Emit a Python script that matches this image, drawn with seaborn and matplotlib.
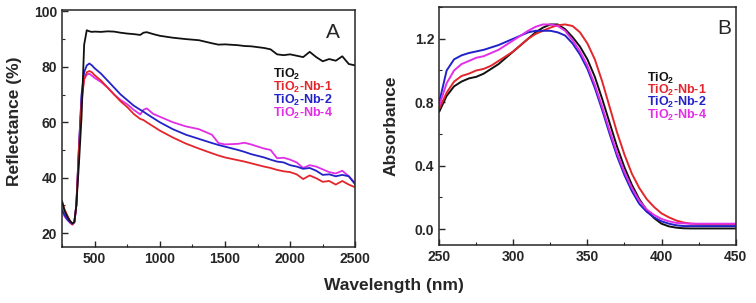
import numpy as np
import pandas as pd
import matplotlib
matplotlib.use("Agg")
import matplotlib.pyplot as plt
from matplotlib.ticker import MultipleLocator
import seaborn as sns

# panel A: diffuse reflectance
wl_a = [250, 270, 290, 310, 330, 345, 360, 380, 400, 420, 440, 460, 480, 500, 550,
        600, 650, 700, 750, 800, 850, 875, 900, 950, 1000, 1100, 1200, 1300, 1400,
        1450, 1500, 1600, 1650, 1700, 1800, 1850, 1900, 1950, 2000, 2050, 2100,
        2150, 2200, 2250, 2300, 2350, 2400, 2450, 2500]
refl_tio2 = [31.5, 28, 26, 24.5, 23.5, 24, 30, 45, 62, 88, 93.2, 92.8, 92.6, 92.7, 92.6,
             92.8, 92.7, 92.3, 92.0, 91.8, 91.5, 92.3, 92.5, 91.8, 91.2, 90.5, 90.0, 89.6, 88.5,
             88.0, 88.1, 87.8, 87.5, 87.4, 86.8, 86.3, 84.5, 84.2, 84.5, 84.0, 83.5,
             85.4, 83.5, 82.0, 82.8, 82.2, 83.8, 81.0, 80.5]
refl_nb1 = [31.5, 28.5, 26.5, 24.5, 23.2, 24, 30, 50, 67, 75.5, 78, 78.5, 78, 77, 75,
            72.5, 70, 67.5, 65.5, 63, 61.2, 60.8, 60, 58.5, 57, 54.5, 52.3, 50.5, 48.8,
            48, 47.3, 46.3, 45.8, 45.2, 44.0, 43.5, 42.8, 42.3, 42.0, 41.2, 39.5,
            40.8, 39.8, 38.5, 38.8, 37.5, 38.8, 37.5, 36.5]
refl_nb2 = [28.5, 26.5, 25, 24, 23.2, 24, 30, 51, 70, 78, 80.5, 81.2, 80.5, 79.5, 77.5,
            75, 72.5, 70, 68, 66, 64.5, 63.8, 63, 61.5, 60, 57.5, 55.5, 54, 52.5,
            51.8, 51.2, 50, 49.3, 48.5, 47.3, 46.5, 45.8, 45.5, 44.5, 44, 43.2,
            43.5, 42.5, 41, 41.2, 40.5, 41, 40.5, 37.5]
refl_nb4 = [28, 26, 24.8, 23.8, 23, 24, 30, 51, 69, 75.5, 77.2, 77.5, 76.8, 76, 74.5,
            72.5, 70, 68, 66.5, 64.5, 62.8, 64.5, 65, 63, 62, 60, 58.5, 57.5, 55.5,
            52.5, 52, 52.2, 52.6, 52, 50.5, 50, 47, 47.2, 46.5, 45.5, 43.5,
            44.5, 44, 43, 42, 41.5, 42.5, 40.5, 38]

# panel B: absorbance
wl_b = [250, 255, 260, 265, 270, 275, 280, 285, 290, 295, 300, 305, 310, 315, 320,
        325, 330, 335, 340, 345, 350, 355, 360, 365, 370, 375, 380, 385, 390, 395,
        400, 405, 410, 415, 420, 430, 440, 450]
abs_tio2 = [0.74, 0.84, 0.90, 0.93, 0.95, 0.96, 0.98, 1.01, 1.04, 1.08, 1.12, 1.16, 1.20, 1.24, 1.27,
            1.29, 1.29, 1.26, 1.21, 1.15, 1.07, 0.96, 0.82, 0.67, 0.52, 0.39, 0.28, 0.19, 0.12, 0.07,
            0.035, 0.018, 0.01, 0.006, 0.005, 0.005, 0.005, 0.005]
abs_nb1 = [0.76, 0.86, 0.93, 0.965, 0.98, 1.00, 1.01, 1.03, 1.06, 1.09, 1.12, 1.16, 1.20, 1.23, 1.25,
           1.27, 1.285, 1.29, 1.28, 1.24, 1.17, 1.07, 0.93, 0.77, 0.61, 0.47, 0.35, 0.26, 0.19, 0.14,
           0.10, 0.075, 0.055, 0.042, 0.035, 0.03, 0.03, 0.03]
abs_nb2 = [0.80, 1.00, 1.07, 1.095, 1.11, 1.12, 1.13, 1.145, 1.16, 1.18, 1.20, 1.22, 1.24, 1.25, 1.25,
           1.25, 1.24, 1.22, 1.17, 1.10, 1.01, 0.89, 0.75, 0.60, 0.46, 0.34, 0.24, 0.16, 0.11, 0.075,
           0.05, 0.035, 0.025, 0.02, 0.02, 0.02, 0.02, 0.02]
abs_nb4 = [0.78, 0.92, 1.00, 1.04, 1.06, 1.08, 1.09, 1.11, 1.13, 1.16, 1.19, 1.22, 1.25, 1.275, 1.29,
           1.29, 1.28, 1.25, 1.19, 1.12, 1.03, 0.91, 0.77, 0.62, 0.48, 0.36, 0.26, 0.18, 0.125, 0.09,
           0.065, 0.05, 0.04, 0.037, 0.035, 0.035, 0.035, 0.035]

samples = ["TiO2", "TiO2-Nb-1", "TiO2-Nb-2", "TiO2-Nb-4"]
labels = ["TiO$_2$", "TiO$_2$-Nb-1", "TiO$_2$-Nb-2", "TiO$_2$-Nb-4"]
colors = ["#111111", "#e3262b", "#2222c8", "#e22ee6"]
palette = dict(zip(samples, colors))


def long_frame(wl, series, col):
    parts = []
    for name, vals in zip(samples, series):
        parts.append(pd.DataFrame({"wl": wl, col: vals, "sample": name}))
    return pd.concat(parts, ignore_index=True)


df_a = long_frame(wl_a, [refl_tio2, refl_nb1, refl_nb2, refl_nb4], "refl")
df_b = long_frame(wl_b, [abs_tio2, abs_nb1, abs_nb2, abs_nb4], "abs")

sns.set_style("ticks")
plt.rcParams["font.family"] = ["Liberation Sans", "DejaVu Sans"]
plt.rcParams["mathtext.fontset"] = "custom"
plt.rcParams["mathtext.rm"] = "Liberation Sans:bold"
plt.rcParams["mathtext.it"] = "Liberation Sans:bold"

fig = plt.figure(figsize=(7.56, 3.03), dpi=100)
ax_a = fig.add_axes([0.082, 0.185, 0.388, 0.782])
ax_b = fig.add_axes([0.581, 0.191, 0.392, 0.786])

sns.lineplot(data=df_a, x="wl", y="refl", hue="sample", palette=palette,
             hue_order=samples[::-1], sort=False, legend=False, linewidth=1.3, ax=ax_a)
sns.lineplot(data=df_b, x="wl", y="abs", hue="sample", palette=palette,
             hue_order=samples, sort=False, legend=False, linewidth=1.4, ax=ax_b)

ax_a.set_xlim(250, 2500)
ax_a.set_ylim(15, 100.5)
ax_a.xaxis.set_major_locator(MultipleLocator(500))
ax_a.xaxis.set_minor_locator(MultipleLocator(250))
ax_a.yaxis.set_major_locator(MultipleLocator(20))
ax_a.yaxis.set_minor_locator(MultipleLocator(10))

ax_b.set_xlim(250, 450)
ax_b.set_ylim(-0.1, 1.4)
ax_b.xaxis.set_major_locator(MultipleLocator(50))
ax_b.xaxis.set_minor_locator(MultipleLocator(25))
ax_b.yaxis.set_major_locator(MultipleLocator(0.4))
ax_b.yaxis.set_minor_locator(MultipleLocator(0.2))

for ax in (ax_a, ax_b):
    ax.set_xlabel("")
    for sp in ax.spines.values():
        sp.set_visible(True)
        sp.set_linewidth(1.1)
    ax.tick_params(which="major", direction="in", length=4, width=1, labelsize=10)
    ax.tick_params(which="minor", direction="in", length=2, width=0.8)
    for lab in ax.get_xticklabels() + ax.get_yticklabels():
        lab.set_fontweight("bold")

ax_a.set_ylabel("Reflectance (%)", fontsize=12.5, fontweight="bold")
ax_a.yaxis.set_label_coords(-0.135, 0.53)
ax_b.set_ylabel("Absorbance", fontsize=12.5, fontweight="bold")
ax_b.yaxis.set_label_coords(-0.138, 0.50)
fig.text(0.521, 0.058, "Wavelength (nm)", fontsize=12.5, fontweight="bold",
         ha="center", va="center")

ax_a.text(0.925, 0.905, "A", transform=ax_a.transAxes, fontsize=15,
          ha="center", va="center")
ax_b.text(0.963, 0.91, "B", transform=ax_b.transAxes, fontsize=15,
          ha="center", va="center")

ys_a = [0.728, 0.672, 0.618, 0.564]
ys_b = [0.70, 0.648, 0.597, 0.546]
for lab, col, ya, yb in zip(labels, colors, ys_a, ys_b):
    ax_a.text(0.72, ya, lab, color=col, transform=ax_a.transAxes, fontsize=9,
              fontweight="bold", va="center")
    ax_b.text(0.70, yb, lab, color=col, transform=ax_b.transAxes, fontsize=9,
              fontweight="bold", va="center")

fig.savefig("out.png", dpi=100)
